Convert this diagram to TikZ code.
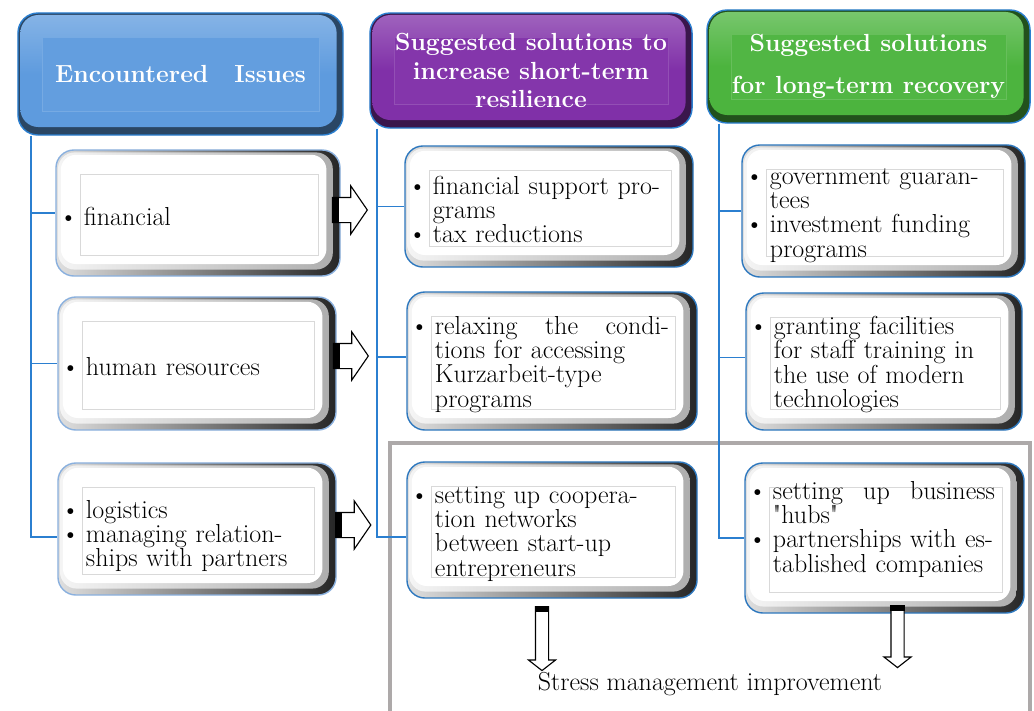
\documentclass[tikz,border=0pt]{standalone}
\usetikzlibrary{positioning,shapes.arrows}

\definecolor{issueblue}{HTML}{5E9BDE}
\definecolor{shortpurple}{HTML}{8030A8}
\definecolor{longgreen}{HTML}{4CB43E}
\definecolor{linkblue}{HTML}{2B7FD0}
\definecolor{rimblue}{HTML}{2E78BE}
\definecolor{rimpale}{HTML}{8AB0DE}
\definecolor{framegray}{HTML}{ADA9A9}

% one bullet line with hanging indent
\newcommand{\bitem}[1]{\par\noindent\hangindent=0.42cm\relax\hangafter=1\relax
  \hbox to 0.42cm{\kern-0.2cm\textbullet\hfil}{\let\\\newline #1}\par}
% a line spread to the given width
\newcommand{\spreadline}[2]{\hbox to #1{#2}}

\begin{document}
\begin{tikzpicture}[x=0.025cm, y=-0.025cm,
    hdr/.style={rounded corners=0.5cm, draw=linkblue, line width=1pt, fill=#1!45!black,
      text=white, font=\fontsize{17.6}{20}\selectfont\bfseries, align=center,
      path picture={
        \path[rounded corners=0.45cm, top color=#1!75!white, bottom color=#1, middle color=#1]
          ([shift={(0.06cm,-0.05cm)}]path picture bounding box.north west) rectangle
          ([shift={(-0.16cm,0.2cm)}]path picture bounding box.south east);
        \draw[sharp corners, fill=#1!97!white, draw=#1!85!white, line width=0.6pt]
          ([shift={(0.6cm,-0.6cm)}]path picture bounding box.north west) rectangle
          ([shift={(-0.58cm,0.58cm)}]path picture bounding box.south east);}},
    item/.style={rounded corners=0.45cm, draw=#1, line width=1pt,
      left color=gray!25, right color=black!85,
      inner xsep=0.28cm, inner ysep=0.1cm, font=\fontsize{18.5}{17.3}\selectfont,
      path picture={
        \path[rounded corners=0.42cm, left color=gray!8, right color=gray!65]
          ([shift={(0.05cm,-0.06cm)}]path picture bounding box.north west) rectangle
          ([shift={(-0.18cm,0.16cm)}]path picture bounding box.south east);
        \fill[white, rounded corners=0.38cm]
          ([shift={(0.12cm,-0.12cm)}]path picture bounding box.north west) rectangle
          ([shift={(-0.34cm,0.3cm)}]path picture bounding box.south east);
        \draw[sharp corners, gray!30, line width=0.6pt]
          ([shift={(0.6cm,-0.6cm)}]path picture bounding box.north west) rectangle
          ([shift={(-0.55cm,0.52cm)}]path picture bounding box.south east);}},
    link/.style={draw=linkblue, line width=1.1pt},
    frame/.style={draw=framegray, line width=0.1cm},
    rarrow/.style={single arrow, draw, fill=white, line width=0.8pt, inner xsep=0pt,
      inner ysep=0.3cm, minimum height=0.875cm, single arrow head extend=0.29cm,
      single arrow tip angle=111},
    darrow/.style={single arrow, draw, fill=white, line width=0.8pt, inner xsep=0pt,
      inner ysep=0.15cm, single arrow head extend=0.175cm, single arrow tip angle=104,
      rotate=-90}]

  \useasboundingbox (0,0) rectangle (1034,711);

  % frame round the stress part
  \draw[frame] (390,443) rectangle (1030,740);

  % column heads
  \node[hdr=issueblue, minimum width=8.125cm, minimum height=3.05cm] (issues) at (180.5,74) {Encountered\hspace{1.05em}Issues};
  \node[hdr=shortpurple, minimum width=8.05cm, minimum height=2.875cm] (short) at (531,70.5) {Suggested solutions to\\increase short-term\\resilience};
  \node[hdr=longgreen, minimum width=8.075cm, minimum height=2.825cm] (long) at (868.5,66.5) {Suggested solutions\\[0.35cm]for long-term recovery};

  \coordinate (ltrunk) at ([xshift=0.35cm]issues.south west);
  \coordinate (mtrunk) at ([xshift=0.2cm]short.south west);
  \coordinate (rtrunk) at ([xshift=0.325cm]long.south west);

  % issues
  \node[item=rimpale, text width=6.54cm, minimum height=3.15cm] (fin) at (198,213) {\bitem{financial}};
  \node[item=rimpale, text width=6.39cm, minimum height=3.325cm] (hum) at (197,363.5) {\bitem{human resources}};
  \node[item=rimpale, text width=6.39cm, minimum height=3.3cm] (log) at (197,529) {\vspace*{0.2cm}\bitem{logistics}\bitem{managing relation-\\ships with partners}};

  % short-term
  \node[item=rimblue, text width=6.64cm, minimum height=3.025cm] (sup) at (549,206.5) {\bitem{financial support pro-\\grams}\bitem{tax reductions}};
  \node[item=rimblue, text width=6.69cm, minimum height=3.45cm] (kurz) at (552,361) {\bitem{\spreadline{5.85cm}{relaxing\hfill the\hfill condi-}\\tions for accessing\\Kurzarbeit-type\\programs}};
  \node[item=rimblue, text width=6.69cm, minimum height=3.4cm] (coop) at (552,530) {\bitem{setting up coopera-\\tion networks\\between start-up\\entrepreneurs}};

  % long-term
  \node[item=rimblue, text width=6.515cm, minimum height=3.3cm] (guar) at (883.5,211) {\bitem{government guaran-\\tees}\bitem{investment funding\\programs}};
  \node[item=rimblue, text width=6.34cm, minimum height=3.425cm] (train) at (884,361.5) {\bitem{granting facilities\\for staff training in\\the use of modern\\technologies}};
  \node[item=rimblue, text width=6.415cm, minimum height=3.75cm] (hubs) at (884.5,538) {\bitem{\spreadline{5.55cm}{setting\hfill up\hfill business}\\\textquotedbl hubs\textquotedbl}\bitem{partnerships with es-\\tablished companies}\vspace{0.6cm}\hrule height 0pt};

  % trunks and branches
  \draw[link] (ltrunk) |- ([yshift=-0.2cm]log.west);
  \draw[link] (ltrunk |- fin.west) -- (fin.west);
  \draw[link] (ltrunk |- hum.west) -- (hum.west);
  \draw[link] (mtrunk) |- ([yshift=-0.18cm]coop.west);
  \draw[link] (mtrunk |- sup.west) -- (sup.west);
  \draw[link] ([yshift=0.1cm]mtrunk |- kurz.west) -- ([yshift=0.1cm]kurz.west);
  \draw[link] (rtrunk) |- (hubs.west);
  \draw[link] (rtrunk |- guar.west) -- (guar.west);
  \draw[link] ([yshift=0.1cm]rtrunk |- train.west) -- ([yshift=0.1cm]train.west);

  % block arrows
  \node[rarrow] (a1) at (345.5,210) {};
  \node[rarrow] (a2) at (346.5,356) {};
  \node[rarrow] (a3) at (349,525) {};
  \foreach \a in {a1,a2,a3}
    \fill (\a.before tail) rectangle ([xshift=0.175cm]\a.after tail);

  \node[darrow, minimum height=1.6cm] (d1) at (542,636) {};
  \node[darrow, minimum height=1.55cm] (d2) at (897.5,634) {};
  \foreach \a in {d1,d2}
    \fill (\a.before tail) rectangle ([yshift=-0.15cm]\a.after tail);

  \node[font=\fontsize{18.5}{20}\selectfont] (stress) at (710,684) {Stress management improvement};
\end{tikzpicture}
\end{document}
